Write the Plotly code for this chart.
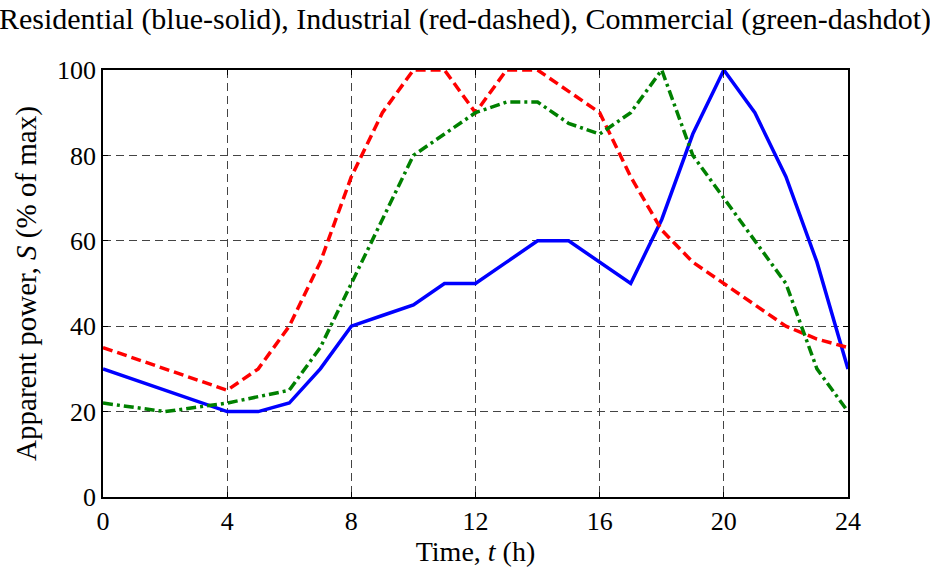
import plotly.graph_objects as go

# Hourly load profiles, % of each sector's peak apparent power
hours = list(range(25))
residential = [30, 27.5, 25, 22.5, 20, 20, 22, 30, 40, 42.5, 45, 50, 50,
               55, 60, 60, 55, 50, 65, 85, 100, 90, 75, 55, 30]
industrial = [35, 32.5, 30, 27.5, 25, 30, 40, 55, 75, 90, 100, 100, 90,
              100, 100, 95, 90, 75, 62.5, 55, 50, 45, 40, 37, 35]
commercial = [22, 21, 20, 21, 22, 23.5, 25, 35, 50, 65, 80, 85, 90,
              92.5, 92.5, 87.5, 85, 90, 100, 80, 70, 60, 50, 30, 20]

x_ticks = [0, 4, 8, 12, 16, 20, 24]
y_ticks = [0, 20, 40, 60, 80, 100]

FONT = "Liberation Serif, Times New Roman, serif"

fig = go.Figure()
fig.add_trace(go.Scatter(x=hours, y=residential, mode="lines", name="Residential",
                         line=dict(color="#0000ff", width=3.5, dash="solid")))
fig.add_trace(go.Scatter(x=hours, y=industrial, mode="lines", name="Industrial",
                         line=dict(color="#ff0000", width=3.5, dash="10px,5px")))
fig.add_trace(go.Scatter(x=hours, y=commercial, mode="lines", name="Commercial",
                         line=dict(color="#008000", width=3.5, dash="10px,4px,3px,4px")))

axis_common = dict(
    showline=True, linecolor="black", linewidth=1.5, mirror="ticks",
    ticks="inside", ticklen=5, tickcolor="black",
    showgrid=True, gridcolor="#444444", gridwidth=1, griddash="8px,5px",
    zeroline=False, tickfont=dict(family=FONT, size=26, color="black"),
)

fig.update_xaxes(range=[0, 24], tickvals=x_ticks,
                 title=dict(text="Time, <i>t</i> (h)", font=dict(family=FONT, size=28, color="black"), standoff=4),
                 **axis_common)
fig.update_yaxes(range=[0, 100], tickvals=y_ticks,
                 title=dict(text="Apparent power, <i>S</i> (% of max)", font=dict(family=FONT, size=29, color="black"), standoff=12),
                 **axis_common)

fig.update_layout(
    width=930, height=574,
    margin=dict(l=103, r=82, t=70, b=77),
    paper_bgcolor="white", plot_bgcolor="white",
    showlegend=False,
    title=dict(text="Residential (blue-solid), Industrial (red-dashed), Commercial (green-dashdot)",
               font=dict(family=FONT, size=30, color="black"),
               x=0.5, xanchor="center", y=0.968, yanchor="middle"),
)

fig.write_html("out.html")
